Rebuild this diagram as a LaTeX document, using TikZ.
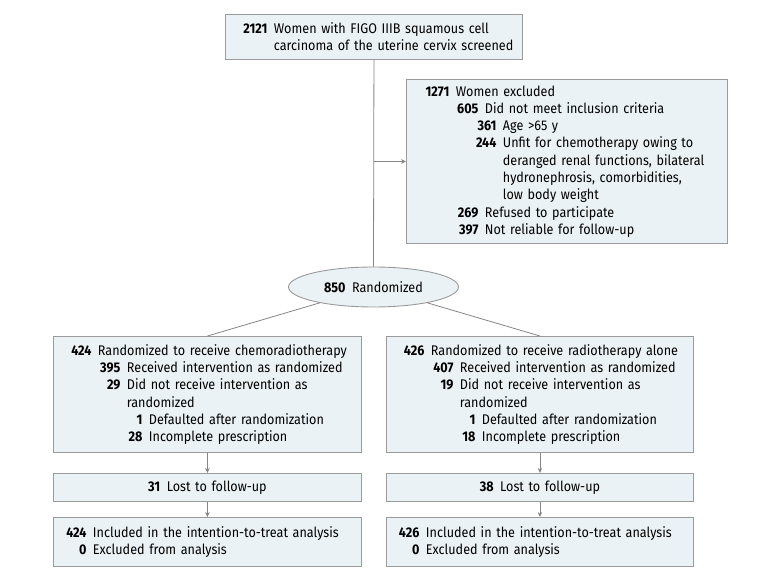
\documentclass[tikz,border=0pt]{standalone}
\usepackage{fontspec}
\setmainfont[FakeStretch=0.9]{Fira Sans}
\usetikzlibrary{arrows.meta,shapes.geometric}
\definecolor{boxfill}{HTML}{EAF2F5}
\definecolor{boxdraw}{HTML}{9A9A9A}
\definecolor{linegray}{HTML}{858585}
\newcommand\rw[3]{\mbox{\makebox[#1][r]{\bfseries #2}\hspace{6.5pt}#3}}
\begin{document}
\begin{tikzpicture}[x=1pt,y=-1pt,
  box/.style={draw=boxdraw, fill=boxfill, line width=0.9pt, inner ysep=0pt, align=left, anchor=north west},
  conn/.style={draw=linegray, line width=0.8pt},
  arr/.style={conn,-{Stealth[length=5pt,width=4.5pt]}},
  font=\fontsize{14}{17.3}\selectfont]
\useasboundingbox (0,0) rectangle (780,580);

\node[box, inner xsep=12pt, text width=273pt, minimum height=45pt] (top) at (225,14)
  {\rw{30pt}{2121}{Women with FIGO IIIB squamous cell}\\
   \rw{30pt}{}{carcinoma of the uterine cervix screened}};

\node[box, inner xsep=12pt, text width=297pt, minimum height=164pt] (excl) at (406,79)
  {\rw{31pt}{1271}{Women excluded}\\
   \rw{60pt}{605}{Did not meet inclusion criteria}\\
   \rw{78pt}{361}{Age >65 y}\\
   \rw{78pt}{244}{Unfit for chemotherapy owing to}\\
   \rw{78pt}{}{deranged renal functions, bilateral}\\
   \rw{78pt}{}{hydronephrosis, comorbidities,}\\
   \rw{78pt}{}{low body weight}\\
   \rw{60pt}{269}{Refused to participate}\\
   \rw{60pt}{397}{Not reliable for follow-up}};

\node[ellipse, draw=boxdraw, fill=boxfill, line width=0.9pt, inner sep=0pt,
  minimum width=170pt, minimum height=40pt] (rand) at (373.5,287)
  {\textbf{850}\hspace{6.5pt}Randomized};

\node[box, inner xsep=15pt, text width=278pt, minimum height=116pt] (armA) at (53,336)
  {\rw{23pt}{424}{Randomized to receive chemoradiotherapy}\\
   \rw{52pt}{395}{Received intervention as randomized}\\
   \rw{52pt}{29}{Did not receive intervention as}\\
   \rw{52pt}{}{randomized}\\
   \rw{74pt}{1}{Defaulted after randomization}\\
   \rw{74pt}{28}{Incomplete prescription}};

\node[box, inner xsep=15pt, text width=277pt, minimum height=116pt] (armB) at (386,336)
  {\rw{23pt}{426}{Randomized to receive radiotherapy alone}\\
   \rw{52pt}{407}{Received intervention as randomized}\\
   \rw{52pt}{19}{Did not receive intervention as}\\
   \rw{52pt}{}{randomized}\\
   \rw{74pt}{1}{Defaulted after randomization}\\
   \rw{74pt}{18}{Incomplete prescription}};

\node[box, align=center, inner xsep=0pt, text width=308pt, minimum height=28pt] (lostA) at (53,473)
  {\textbf{31}\hspace{6.5pt}Lost to follow-up};
\node[box, align=center, inner xsep=0pt, text width=307pt, minimum height=28pt] (lostB) at (386,473)
  {\textbf{38}\hspace{6.5pt}Lost to follow-up};

\node[box, inner xsep=12pt, text width=284pt, minimum height=49pt] (itA) at (53,517)
  {\rw{21pt}{424}{Included in the intention-to-treat analysis}\\
   \rw{21pt}{0}{Excluded from analysis}};
\node[box, inner xsep=12pt, text width=283pt, minimum height=49pt] (itB) at (386,517)
  {\rw{21pt}{426}{Included in the intention-to-treat analysis}\\
   \rw{21pt}{0}{Excluded from analysis}};

\draw[conn] (top.south) -- (rand.north);
\draw[arr] (top.south |- excl.west) -- (excl.west);
\draw[conn] (rand) -- (armA.north);
\draw[conn] (rand) -- (armB.north);
\draw[arr] (armA.south) -- (lostA.north);
\draw[arr] (armB.south) -- (lostB.north);
\draw[arr] (lostA.south) -- (itA.north);
\draw[arr] (lostB.south) -- (itB.north);
\end{tikzpicture}
\end{document}
